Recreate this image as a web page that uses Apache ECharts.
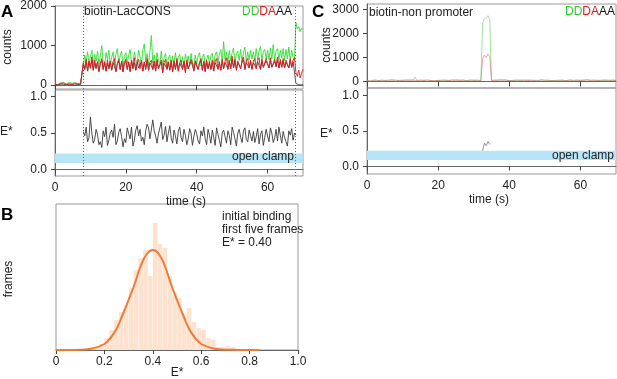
<!DOCTYPE html>
<html>
<head>
<meta charset="utf-8">
<script src="https://cdn.jsdelivr.net/npm/echarts@6/dist/echarts.min.js"></script>
<style>
  html, body { margin: 0; padding: 0; background: #fff; }
  #chart { width: 617px; height: 379px; }
</style>
</head>
<body>
<div id="chart"></div>
<script>
// panel A: biotin-LacCONS, one frame every 0.4 s, 0..70 s
const frameA = 0.4;
const greenA = [
  20, 45, 10, 30, 60, 15, 25, 50, 5, 35, 70, 20, 40, 10, 55, 30, 15, 65, 25, 40,
  500, 760, 580, 840, 540, 720, 880, 520, 780, 600,
  860, 540, 740, 1000, 560, 500, 820, 640, 880, 520,
  700, 840, 500, 780, 920, 560, 740, 860, 480, 720,
  820, 540, 760, 900, 580, 500, 840, 640, 560, 880,
  720, 520, 900, 1040, 580, 800, 500, 840, 1250, 560,
  760, 480, 820, 600, 540, 860, 480, 700, 800, 460,
  680, 760, 460, 740, 520, 820, 480, 700, 780, 500,
  720, 460, 780, 540, 740, 480, 800, 560, 460, 760,
  520, 740, 820, 480, 700, 780, 460, 640, 760, 540,
  740, 800, 520, 760, 840, 560, 780, 900, 580, 1100,
  640, 840, 560, 880, 620, 820, 940, 580, 800, 860,
  620, 900, 580, 820, 960, 600, 840, 640, 880, 660,
  840, 600, 920, 640, 860, 980, 620, 840, 900, 660,
  880, 640, 940, 660, 1020, 620, 860, 920, 640, 880,
  680, 920, 620, 900, 660, 960, 640, 880, 700, 620,
  1580, 1420, 1480, 1350, 1440, 1400
];
const redA = [
  10, 30, 5, 20, 40, 15, 60, 10, 25, 45, 20, 55, 5, 30, 50, 15, 40, 60, 20, 35,
  570, 390, 650, 350, 610, 450, 710, 370, 630, 430,
  590, 330, 550, 670, 390, 590, 350, 630, 410, 610,
  370, 590, 670, 330, 550, 650, 390, 610, 350, 570,
  650, 390, 590, 330, 630, 410, 690, 370, 550, 650,
  410, 630, 350, 590, 390, 670, 370, 570, 630, 390,
  610, 350, 650, 410, 370, 630, 310, 570, 650, 390,
  590, 370, 630, 330, 610, 390, 670, 350, 570, 630,
  390, 610, 310, 630, 410, 370, 650, 570, 350, 610,
  630, 390, 570, 670, 370, 610, 330, 630, 410, 590,
  390, 630, 350, 610, 670, 390, 590, 370, 650, 410,
  610, 690, 390, 630, 410, 730, 430, 650, 370, 610,
  650, 410, 630, 710, 390, 610, 670, 430, 630, 390,
  610, 670, 410, 630, 690, 390, 650, 450, 410, 670,
  630, 430, 690, 450, 410, 650, 470, 710, 430, 650,
  450, 670, 430, 630, 650, 430, 670, 450, 630, 690,
  320, 220, 380, 180, 300, 400
];
const aaA = [
  5, 15, 0, 10, 20, 5, 25, 10, 0, 15, 30, 5, 20, 10, 0, 25, 15, 5, 20, 10,
  540, 400, 600, 360, 580, 420, 620, 380, 560, 410,
  580, 360, 540, 620, 400, 570, 350, 560, 420, 590,
  380, 570, 620, 350, 540, 600, 400, 580, 330, 540,
  600, 400, 570, 360, 610, 420, 560, 380, 580, 430,
  400, 590, 360, 570, 420, 610, 380, 560, 590, 400,
  570, 360, 600, 420, 390, 580, 320, 550, 600, 410,
  560, 380, 590, 350, 570, 410, 620, 370, 550, 580,
  410, 580, 340, 590, 420, 390, 600, 560, 370, 570,
  590, 400, 560, 620, 380, 570, 350, 590, 420, 560,
  400, 590, 360, 570, 620, 410, 560, 380, 600, 420,
  570, 620, 410, 580, 420, 650, 440, 600, 390, 570,
  600, 420, 580, 640, 400, 570, 610, 430, 590, 410,
  570, 620, 420, 590, 630, 400, 600, 450, 420, 610,
  580, 430, 630, 450, 410, 600, 460, 640, 430, 600,
  450, 620, 430, 580, 600, 430, 620, 450, 590, 630,
  40, 20, 10, 30, 5, 15
];
// E* for A starts at 8.0 s
const eStartA = 8.0;
const eStarA = [
  0.52, 0.46, 0.58, 0.38, 0.44, 0.72, 0.50, 0.36, 0.41, 0.55,
  0.48, 0.34, 0.38, 0.30, 0.53, 0.45, 0.58, 0.33, 0.40, 0.50,
  0.54, 0.44, 0.62, 0.34, 0.39, 0.51, 0.56, 0.45, 0.31, 0.42,
  0.37, 0.57, 0.49, 0.42, 0.58, 0.32, 0.40, 0.54, 0.60, 0.46,
  0.55, 0.39, 0.44, 0.34, 0.53, 0.62, 0.57, 0.42, 0.40, 0.68,
  0.53, 0.46, 0.36, 0.49, 0.57, 0.65, 0.41, 0.47, 0.59, 0.38,
  0.50, 0.60, 0.43, 0.36, 0.54, 0.46, 0.35, 0.52, 0.58, 0.44,
  0.38, 0.55, 0.47, 0.34, 0.42, 0.56, 0.50, 0.33, 0.45, 0.55,
  0.49, 0.39, 0.35, 0.53, 0.46, 0.58, 0.42, 0.34, 0.55, 0.47,
  0.36, 0.54, 0.44, 0.33, 0.57, 0.48, 0.40, 0.31, 0.50, 0.54,
  0.45, 0.36, 0.53, 0.47, 0.34, 0.58, 0.51, 0.42, 0.32, 0.50,
  0.55, 0.44, 0.37, 0.53, 0.57, 0.41, 0.38, 0.54, 0.46, 0.39,
  0.52, 0.37, 0.45, 0.56, 0.35, 0.48, 0.53, 0.33, 0.44, 0.55,
  0.46, 0.38, 0.57, 0.50, 0.37, 0.43, 0.55, 0.39, 0.58, 0.47,
  0.36, 0.52, 0.44, 0.38, 0.32, 0.53, 0.47, 0.56, 0.40, 0.50,
  0.47
];
const bindA = 8.0, bleachA = 67.8;

// panel C: biotin-non promoter, one frame every 0.5 s
const frameC = 0.5;
const greenC = [
  40, 60, 20, 50, 70, 30, 45, 80, 25, 55,
  35, 65, 30, 50, 75, 40, 20, 60, 45, 30,
  55, 40, 70, 25, 50, 35, 60, 180, 45, 30,
  65, 40, 55, 30, 70, 45, 35, 60, 25, 50,
  45, 70, 30, 55, 40, 65, 35, 50, 75, 30,
  60, 40, 55, 35, 70, 45, 30, 65, 50, 40,
  55, 35, 60, 45, 30, 2450, 2600, 2650, 2750, 2600,
  50, 40, 65, 30, 55, 45, 70, 35, 60, 40,
  35, 55, 45, 70, 30, 60, 40, 50, 65, 35,
  55, 40, 60, 30, 50, 70, 45, 35, 60, 40,
  50, 65, 35, 55, 40, 70, 30, 60, 45, 50,
  40, 60, 35, 55, 70, 45, 30, 65, 50, 40,
  55, 35, 60, 45, 70, 40, 50, 30, 65, 45,
  40, 60, 35, 55, 45, 70, 30, 50, 60, 40,
  45
];
const redC = [
  30, 50, 20, 45, 35, 60, 25, 40, 55, 30,
  45, 25, 55, 35, 50, 30, 60, 40, 25, 50,
  35, 55, 30, 45, 60, 25, 50, 40, 35, 55,
  30, 50, 40, 60, 25, 45, 35, 55, 30, 50,
  40, 25, 55, 35, 60, 30, 45, 50, 25, 40,
  55, 35, 45, 60, 30, 50, 40, 25, 55, 35,
  45, 60, 30, 50, 25, 950, 1100, 1000, 1150, 1050,
  40, 55, 30, 45, 60, 25, 50, 35, 55, 40,
  30, 50, 45, 25, 60, 35, 55, 40, 30, 50,
  45, 60, 30, 50, 35, 55, 25, 45, 60, 35,
  50, 30, 55, 40, 25, 60, 45, 35, 50, 30,
  55, 40, 30, 60, 45, 25, 50, 35, 55, 40,
  35, 50, 45, 30, 60, 40, 25, 55, 35, 50,
  45, 30, 55, 40, 60, 35, 50, 25, 45, 55,
  40
];
const eStartC = 32.5;
const eStarC = [0.22, 0.33, 0.29, 0.35, 0.31];

// panel B: E* histogram of first five frames + gaussian fit
const histE = [0.13, 0.15, 0.17, 0.19, 0.21, 0.23, 0.25, 0.27, 0.29, 0.31, 0.33, 0.35,
  0.37, 0.39, 0.41, 0.43, 0.45, 0.47, 0.49, 0.51, 0.53, 0.55, 0.57, 0.59,
  0.61, 0.63, 0.65, 0.67, 0.69, 0.71, 0.73, 0.75, 0.77, 0.79, 0.81, 0.83];
const histFrames = [1, 1, 3, 6, 12, 20, 30, 38, 45, 62, 80, 92,
  100, 74, 127, 106, 102, 74, 56, 52, 36, 42, 28, 22,
  20, 12, 10, 3, 3, 4, 3, 1, 1, 0.5, 0.5, 0.3];
const fitE = [0, 0.05, 0.1, 0.15, 0.2, 0.225, 0.25, 0.275, 0.3, 0.325, 0.35, 0.375, 0.4,
  0.425, 0.45, 0.475, 0.5, 0.525, 0.55, 0.575, 0.6, 0.65, 0.7, 0.75, 0.8, 0.84];
const fitFrames = [0, 0, 0.2, 1.5, 6, 12, 21, 35, 50, 66, 84, 96, 100,
  96, 84, 66, 50, 35, 21, 12, 6, 1.5, 0.3, 0.1, 0, 0];

const timeTicks = [0, 20, 40, 60];
const countTicksA = [0, 1000, 2000];
const countTicksC = [0, 1000, 2000, 3000];
const eTicks = [0, 0.5, 1.0];
const clamp = [0.09, 0.22];

const FONT = 'Liberation Sans, Arial, sans-serif';
const AXIS = '#666', BOX = '#999', TXT = '#222';

function pairs(vals, t0, dt) {
  return vals.map((v, i) => [+(t0 + i * dt).toFixed(2), v]);
}

function grid(left, top, width, height) {
  return { left, top, width, height, show: true, borderColor: BOX, borderWidth: 1, backgroundColor: 'transparent' };
}

function timeAxis(gi, labels) {
  return {
    type: 'value', gridIndex: gi, min: 0, max: 70,
    axisLine: { show: true, lineStyle: { color: AXIS } },
    axisTick: { show: true, length: labels ? 4 : 5, customValues: timeTicks, lineStyle: { color: '#444' } },
    axisLabel: { show: labels, customValues: timeTicks, margin: 6, color: TXT, fontSize: 12, fontFamily: FONT },
    splitLine: { show: false }
  };
}

function valAxis(gi, min, max, ticks, fmt) {
  return {
    type: 'value', gridIndex: gi, min, max,
    axisLine: { show: true, lineStyle: { color: AXIS } },
    axisTick: { show: true, length: 4, customValues: ticks, lineStyle: { color: '#444' } },
    axisLabel: { customValues: ticks, margin: 8, color: TXT, fontSize: 12, fontFamily: FONT, formatter: fmt },
    splitLine: { show: false }
  };
}

function trace(xi, yi, data, color, width, opacity) {
  return {
    type: 'line', xAxisIndex: xi, yAxisIndex: yi, data,
    showSymbol: false, symbol: 'none', animation: false, silent: true,
    lineStyle: { color, width, opacity: opacity == null ? 1 : opacity }
  };
}

function dotted(xs) {
  return {
    silent: true, symbol: ['none', 'none'], animation: false,
    label: { show: false },
    lineStyle: { color: '#666', type: [1, 2], width: 1 },
    data: xs.map(x => ({ xAxis: x }))
  };
}

function clampArea() {
  return {
    silent: true,
    itemStyle: { color: '#b6e5f8' },
    data: [[{ xAxis: 0, yAxis: clamp[0] }, { xAxis: 70, yAxis: clamp[1] }]]
  };
}

const fmtE = v => v.toFixed(1);
const fmtC = v => String(v);

const seriesList = [];
// A counts
const gA = trace(0, 0, pairs(greenA, 0, frameA), '#2fdc2f', 0.9);
gA.markLine = dotted([bindA, bleachA]);
seriesList.push(gA);
seriesList.push(trace(0, 0, pairs(aaA, 0, frameA), '#4a4a4a', 0.9));
seriesList.push(trace(0, 0, pairs(redA, 0, frameA), '#e3161a', 0.9));
// A E*
const eA = trace(1, 1, pairs(eStarA, eStartA, frameA), '#3a3a3a', 0.9);
eA.markLine = dotted([bindA, bleachA]);
eA.markArea = clampArea();
seriesList.push(eA);
// C counts
seriesList.push(trace(2, 2, pairs(greenC, 0, frameC), '#5fcf5f', 0.8, 0.75));
seriesList.push(trace(2, 2, pairs(redC, 0, frameC), '#e26060', 0.8, 0.7));
// C E*
const eC = trace(3, 3, pairs(eStarC, eStartC, frameC), '#8a8a8a', 0.9);
eC.markArea = clampArea();
seriesList.push(eC);
// B histogram
seriesList.push({
  type: 'bar', xAxisIndex: 4, yAxisIndex: 4, animation: false, silent: true,
  data: histE.map((e, i) => [e, histFrames[i]]),
  barWidth: 4.6, itemStyle: { color: '#fde3cf' }
});
seriesList.push({
  type: 'line', xAxisIndex: 4, yAxisIndex: 4, animation: false, silent: true,
  smooth: 0.4, showSymbol: false, symbol: 'none',
  data: fitE.map((e, i) => [e, fitFrames[i]]),
  lineStyle: { color: '#ee7a37', width: 2 }
});

const legendRich = {
  g: { fill: '#2fcc2f', font: '12px ' + FONT },
  r: { fill: '#e3161a', font: '12px ' + FONT },
  k: { fill: '#111', font: '12px ' + FONT }
};

function label(x, y, text, align, rot) {
  return {
    type: 'text', x, y, z: 100, silent: true, rotation: rot || 0,
    style: { text, font: '12px ' + FONT, fill: TXT, textAlign: align || 'left', textVerticalAlign: 'middle' }
  };
}
function panel(x, y, text) {
  return {
    type: 'text', x, y, z: 100, silent: true,
    style: { text, font: 'bold 17px ' + FONT, fill: '#000', textVerticalAlign: 'middle' }
  };
}
function legend(x, y) {
  return {
    type: 'text', x, y, z: 100, silent: true,
    style: { text: '{g|DD}{r|DA}{k|AA}', rich: legendRich, textAlign: 'right', textVerticalAlign: 'middle' }
  };
}

const UP = Math.PI / 2;

const option = {
  animation: false,
  backgroundColor: '#fff',
  grid: [
    grid(55, 4, 248, 85),
    grid(55, 90, 248, 86),
    grid(367, 4, 249, 84),
    grid(367, 88, 249, 86),
    grid(56, 204, 242, 146)
  ],
  xAxis: [
    timeAxis(0, false),
    timeAxis(1, true),
    timeAxis(2, false),
    timeAxis(3, true),
    {
      type: 'value', gridIndex: 4, min: 0, max: 1, interval: 0.2,
      axisLine: { show: true, lineStyle: { color: AXIS } },
      axisTick: { show: true, length: 4, lineStyle: { color: '#444' } },
      axisLabel: { margin: 6, color: TXT, fontSize: 12, fontFamily: FONT, formatter: v => v === 0 ? '0' : v.toFixed(1) },
      splitLine: { show: false }
    }
  ],
  yAxis: [
    valAxis(0, -100, 2000, countTicksA, fmtC),
    valAxis(1, -0.09, 1.09, eTicks, fmtE),
    valAxis(2, -275, 3240, countTicksC, fmtC),
    valAxis(3, -0.107, 1.104, eTicks, fmtE),
    { type: 'value', gridIndex: 4, min: 0, max: 146, show: false, splitLine: { show: false } }
  ],
  series: seriesList,
  graphic: [
    panel(1, 12, 'A'),
    panel(1, 215, 'B'),
    panel(312, 12, 'C'),

    label(8, 47, 'counts', 'center', UP),
    label(0, 132, 'E*'),
    label(186, 202, 'time (s)', 'center'),
    label(84, 12, 'biotin-LacCONS'),
    legend(292, 12),
    label(294, 157, 'open clamp', 'right'),

    label(9, 279, 'frames', 'center', UP),
    label(177, 373, 'E*', 'center'),
    label(222, 217, 'initial binding'),
    label(222, 230, 'first five frames'),
    label(222, 243, 'E* = 0.40'),

    label(327, 45, 'counts', 'center', UP),
    label(320, 134, 'E*'),
    label(489, 200, 'time (s)', 'center'),
    label(369, 13, 'biotin-non promoter'),
    legend(615, 12),
    label(614, 156, 'open clamp', 'right')
  ]
};

const chart = echarts.init(document.getElementById('chart'), null, { renderer: 'canvas' });
chart.setOption(option);
</script>
</body>
</html>
